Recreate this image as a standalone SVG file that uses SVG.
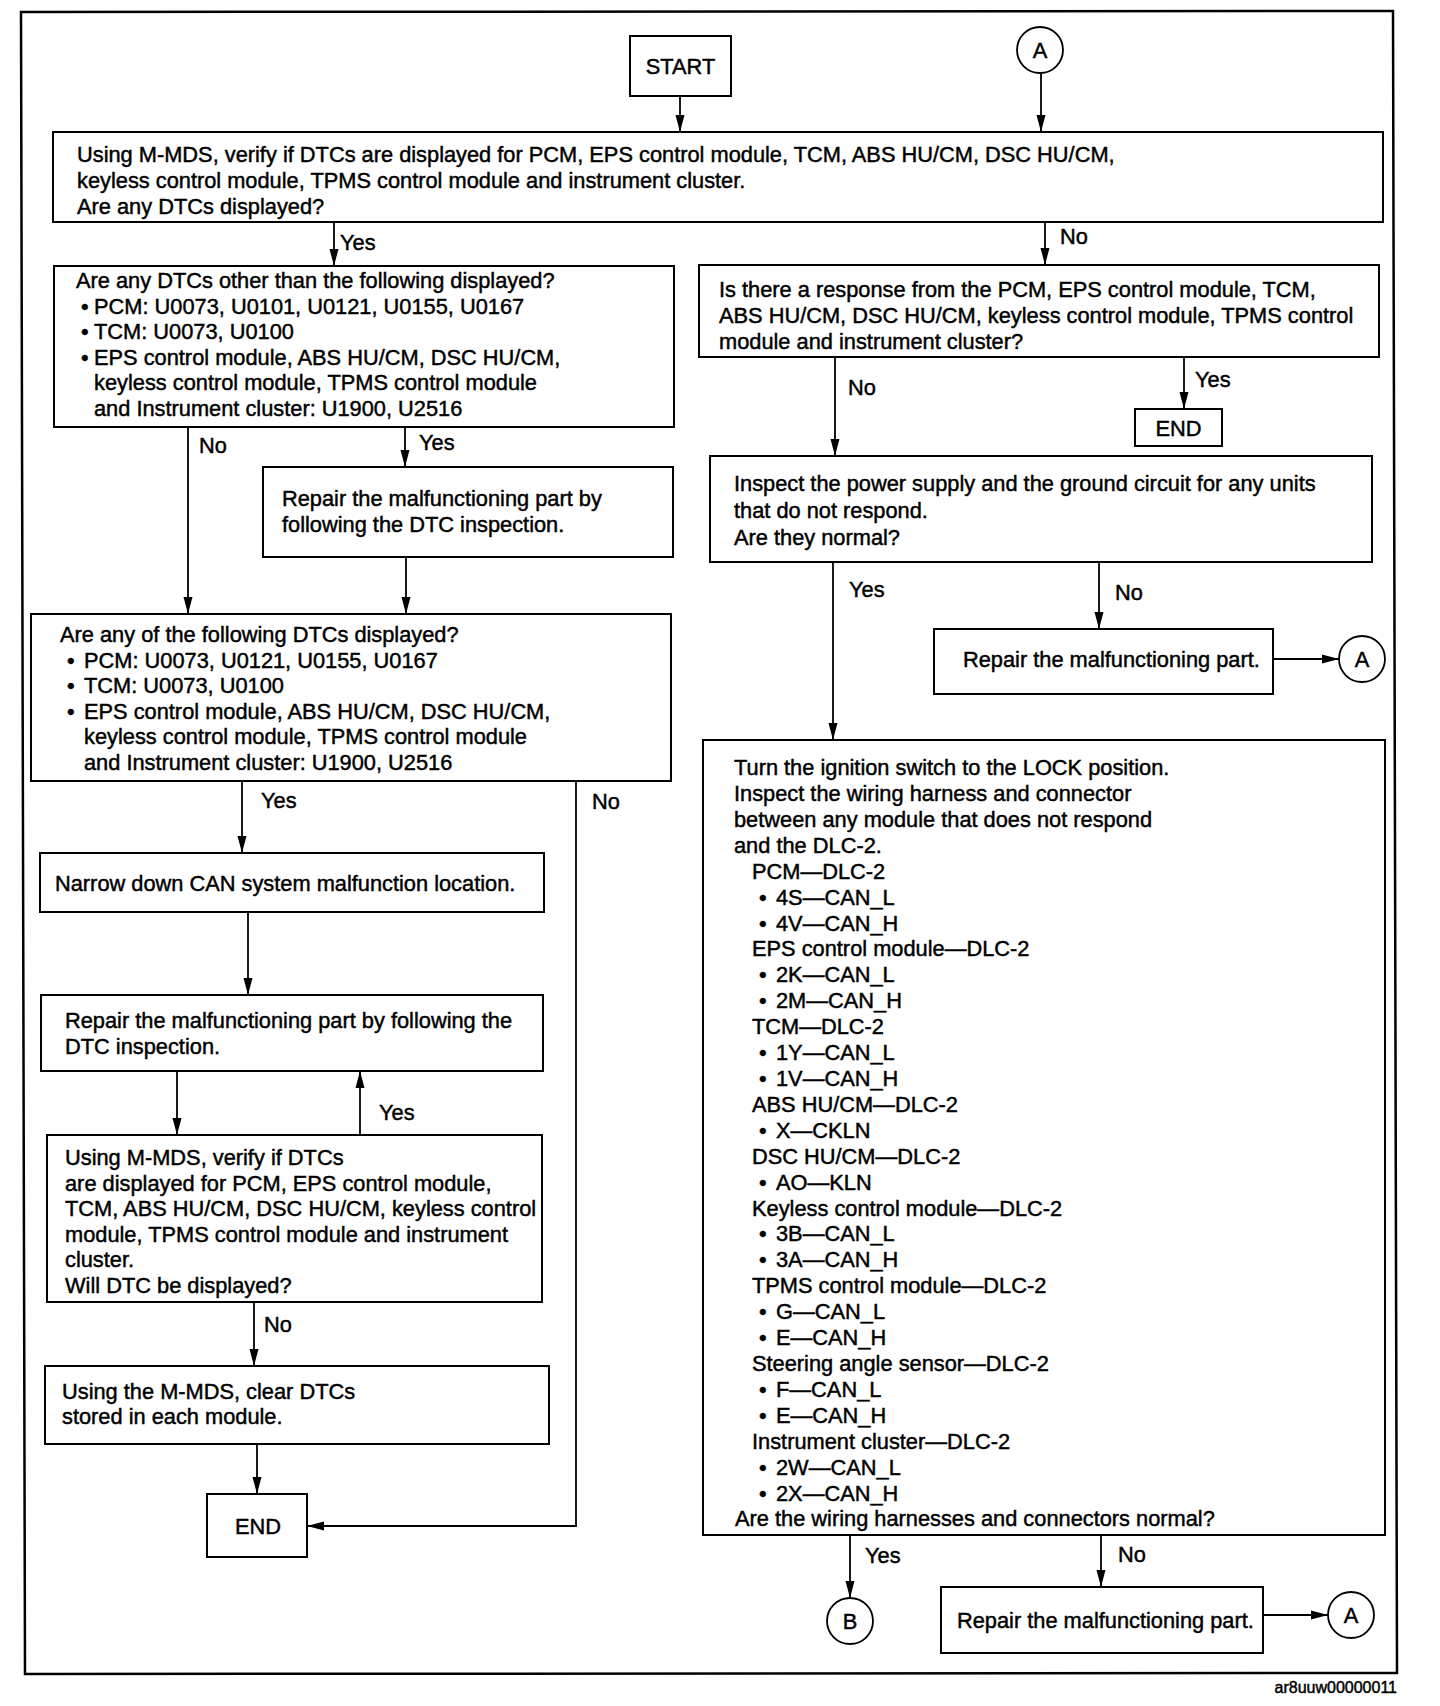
<svg xmlns="http://www.w3.org/2000/svg" width="1440" height="1706" viewBox="0 0 1440 1706">
<defs>
<marker id="ah" markerUnits="userSpaceOnUse" markerWidth="18" markerHeight="10" refX="17" refY="5" orient="auto">
<path d="M0,0.5 L17,5 L0,9.5 z" fill="#000"/>
</marker>
<style>
.bx{fill:#fff;stroke:#000;stroke-width:2}
.ci{fill:#fff;stroke:#000;stroke-width:1.8}
.t{font-family:"Liberation Sans",Arial,sans-serif;font-size:21.8px;fill:#000;stroke:#000;stroke-width:0.45}
.c{text-anchor:middle}
.ln{fill:none;stroke:#000;stroke-width:1.8}
.cap{font-family:"Liberation Sans",Arial,sans-serif;font-size:16px;fill:#000;stroke:#000;stroke-width:0.45;text-anchor:end}
</style>
</defs>
<rect width="1440" height="1706" fill="#fff"/>
<g id="frame">
<polygon points="21,12 1393,11 1397,1673 25,1674" fill="none" stroke="#000" stroke-width="2.5"/>
</g>
<g id="connectors">
<line class="ln" x1="680" y1="96" x2="680" y2="132" marker-end="url(#ah)"/>
<line class="ln" x1="1041" y1="73" x2="1041" y2="132" marker-end="url(#ah)"/>
<line class="ln" x1="334" y1="222" x2="334" y2="266" marker-end="url(#ah)"/>
<text class="t" x="340" y="250">Yes</text>
<line class="ln" x1="1045" y1="222" x2="1045" y2="265" marker-end="url(#ah)"/>
<text class="t" x="1060" y="244">No</text>
<line class="ln" x1="188" y1="427" x2="188" y2="614" marker-end="url(#ah)"/>
<text class="t" x="199" y="453">No</text>
<line class="ln" x1="405" y1="427" x2="405" y2="467" marker-end="url(#ah)"/>
<text class="t" x="419" y="450">Yes</text>
<line class="ln" x1="406" y1="557" x2="406" y2="614" marker-end="url(#ah)"/>
<line class="ln" x1="242" y1="781" x2="242" y2="853" marker-end="url(#ah)"/>
<text class="t" x="261" y="808">Yes</text>
<polyline class="ln" points="576,781 576,1526 307,1526" marker-end="url(#ah)"/>
<text class="t" x="592" y="809">No</text>
<line class="ln" x1="248" y1="912" x2="248" y2="995" marker-end="url(#ah)"/>
<line class="ln" x1="177" y1="1071" x2="177" y2="1135" marker-end="url(#ah)"/>
<line class="ln" x1="360" y1="1135" x2="360" y2="1071" marker-end="url(#ah)"/>
<text class="t" x="379" y="1120">Yes</text>
<line class="ln" x1="254" y1="1302" x2="254" y2="1366" marker-end="url(#ah)"/>
<text class="t" x="264" y="1332">No</text>
<line class="ln" x1="257" y1="1444" x2="257" y2="1494" marker-end="url(#ah)"/>
<line class="ln" x1="835" y1="357" x2="835" y2="456" marker-end="url(#ah)"/>
<text class="t" x="848" y="395">No</text>
<line class="ln" x1="1184" y1="357" x2="1184" y2="409" marker-end="url(#ah)"/>
<text class="t" x="1195" y="387">Yes</text>
<line class="ln" x1="833" y1="562" x2="833" y2="740" marker-end="url(#ah)"/>
<text class="t" x="849" y="597">Yes</text>
<line class="ln" x1="1099" y1="562" x2="1099" y2="629" marker-end="url(#ah)"/>
<text class="t" x="1115" y="600">No</text>
<line class="ln" x1="1273" y1="659" x2="1339" y2="659" marker-end="url(#ah)"/>
<line class="ln" x1="850" y1="1535" x2="850" y2="1598" marker-end="url(#ah)"/>
<text class="t" x="865" y="1563">Yes</text>
<line class="ln" x1="1101" y1="1535" x2="1101" y2="1587" marker-end="url(#ah)"/>
<text class="t" x="1118" y="1562">No</text>
<line class="ln" x1="1263" y1="1615" x2="1328" y2="1615" marker-end="url(#ah)"/>
</g>
<g id="start">
<rect class="bx" x="630" y="36" width="101" height="60"/>
<text class="t c" x="680.5" y="74">START</text>
</g>
<g id="a_top">
<circle class="ci" cx="1040" cy="50" r="23"/>
<text class="t c" x="1040" y="57.5">A</text>
</g>
<g id="q_dtc">
<rect class="bx" x="53" y="132" width="1330" height="90"/>
<text class="t"><tspan x="77" y="162">Using M-MDS, verify if DTCs are displayed for PCM, EPS control module, TCM, ABS HU/CM, DSC HU/CM,</tspan><tspan x="77" y="188">keyless control module, TPMS control module and instrument cluster.</tspan><tspan x="77" y="214">Are any DTCs displayed?</tspan></text>
</g>
<g id="q_other">
<rect class="bx" x="54" y="266" width="620" height="161"/>
<text class="t"><tspan x="76" y="288">Are any DTCs other than the following displayed?</tspan><tspan x="81" y="313.5">•</tspan><tspan x="94" y="313.5">PCM: U0073, U0101, U0121, U0155, U0167</tspan><tspan x="81" y="339">•</tspan><tspan x="94" y="339">TCM: U0073, U0100</tspan><tspan x="81" y="364.5">•</tspan><tspan x="94" y="364.5">EPS control module, ABS HU/CM, DSC HU/CM,</tspan><tspan x="94" y="390">keyless control module, TPMS control module</tspan><tspan x="94" y="415.5">and Instrument cluster: U1900, U2516</tspan></text>
</g>
<g id="repair_dtc1">
<rect class="bx" x="263" y="467" width="410" height="90"/>
<text class="t"><tspan x="282" y="506">Repair the malfunctioning part by</tspan><tspan x="282" y="532">following the DTC inspection.</tspan></text>
</g>
<g id="q_following">
<rect class="bx" x="31" y="614" width="640" height="167"/>
<text class="t"><tspan x="60" y="642">Are any of the following DTCs displayed?</tspan><tspan x="67" y="667.5">•</tspan><tspan x="84" y="667.5">PCM: U0073, U0121, U0155, U0167</tspan><tspan x="67" y="693">•</tspan><tspan x="84" y="693">TCM: U0073, U0100</tspan><tspan x="67" y="718.5">•</tspan><tspan x="84" y="718.5">EPS control module, ABS HU/CM, DSC HU/CM,</tspan><tspan x="84" y="744">keyless control module, TPMS control module</tspan><tspan x="84" y="769.5">and Instrument cluster: U1900, U2516</tspan></text>
</g>
<g id="narrow">
<rect class="bx" x="40" y="853" width="504" height="59"/>
<text class="t" x="55" y="891">Narrow down CAN system malfunction location.</text>
</g>
<g id="repair_dtc2">
<rect class="bx" x="41" y="995" width="502" height="76"/>
<text class="t"><tspan x="65" y="1028">Repair the malfunctioning part by following the</tspan><tspan x="65" y="1054">DTC inspection.</tspan></text>
</g>
<g id="q_verify">
<rect class="bx" x="47" y="1135" width="495" height="167"/>
<text class="t"><tspan x="65" y="1165">Using M-MDS, verify if DTCs</tspan><tspan x="65" y="1190.5">are displayed for PCM, EPS control module,</tspan><tspan x="65" y="1216">TCM, ABS HU/CM, DSC HU/CM, keyless control</tspan><tspan x="65" y="1241.5">module, TPMS control module and instrument</tspan><tspan x="65" y="1267">cluster.</tspan><tspan x="65" y="1292.5">Will DTC be displayed?</tspan></text>
</g>
<g id="clear">
<rect class="bx" x="45" y="1366" width="504" height="78"/>
<text class="t"><tspan x="62" y="1399">Using the M-MDS, clear DTCs</tspan><tspan x="62" y="1424">stored in each module.</tspan></text>
</g>
<g id="end_left">
<rect class="bx" x="207" y="1494" width="100" height="63"/>
<text class="t c" x="258" y="1534">END</text>
</g>
<g id="q_response">
<rect class="bx" x="699" y="265" width="680" height="92"/>
<text class="t"><tspan x="719" y="297">Is there a response from the PCM, EPS control module, TCM,</tspan><tspan x="719" y="323">ABS HU/CM, DSC HU/CM, keyless control module, TPMS control</tspan><tspan x="719" y="349">module and instrument cluster?</tspan></text>
</g>
<g id="end_right">
<rect class="bx" x="1135" y="409" width="87" height="37"/>
<text class="t c" x="1178.5" y="436">END</text>
</g>
<g id="q_power">
<rect class="bx" x="710" y="456" width="662" height="106"/>
<text class="t"><tspan x="734" y="491">Inspect the power supply and the ground circuit for any units</tspan><tspan x="734" y="518">that do not respond.</tspan><tspan x="734" y="545">Are they normal?</tspan></text>
</g>
<g id="repair1">
<rect class="bx" x="934" y="629" width="339" height="65"/>
<text class="t" x="963" y="667">Repair the malfunctioning part.</text>
</g>
<g id="a_mid">
<circle class="ci" cx="1362" cy="659" r="23"/>
<text class="t c" x="1362" y="666.5">A</text>
</g>
<g id="q_wiring">
<rect class="bx" x="703" y="740" width="682" height="795"/>
<text class="t"><tspan x="734" y="775">Turn the ignition switch to the LOCK position.</tspan><tspan x="734" y="800.9">Inspect the wiring harness and connector</tspan><tspan x="734" y="826.8">between any module that does not respond</tspan><tspan x="734" y="852.7">and the DLC-2.</tspan><tspan x="752" y="878.6">PCM—DLC-2</tspan><tspan x="759" y="904.6">•</tspan><tspan x="776" y="904.6">4S—CAN_L</tspan><tspan x="759" y="930.5">•</tspan><tspan x="776" y="930.5">4V—CAN_H</tspan><tspan x="752" y="956.4">EPS control module—DLC-2</tspan><tspan x="759" y="982.3">•</tspan><tspan x="776" y="982.3">2K—CAN_L</tspan><tspan x="759" y="1008.2">•</tspan><tspan x="776" y="1008.2">2M—CAN_H</tspan><tspan x="752" y="1034.1">TCM—DLC-2</tspan><tspan x="759" y="1060">•</tspan><tspan x="776" y="1060">1Y—CAN_L</tspan><tspan x="759" y="1085.9">•</tspan><tspan x="776" y="1085.9">1V—CAN_H</tspan><tspan x="752" y="1111.8">ABS HU/CM—DLC-2</tspan><tspan x="759" y="1137.7">•</tspan><tspan x="776" y="1137.7">X—CKLN</tspan><tspan x="752" y="1163.7">DSC HU/CM—DLC-2</tspan><tspan x="759" y="1189.6">•</tspan><tspan x="776" y="1189.6">AO—KLN</tspan><tspan x="752" y="1215.5">Keyless control module—DLC-2</tspan><tspan x="759" y="1241.4">•</tspan><tspan x="776" y="1241.4">3B—CAN_L</tspan><tspan x="759" y="1267.3">•</tspan><tspan x="776" y="1267.3">3A—CAN_H</tspan><tspan x="752" y="1293.2">TPMS control module—DLC-2</tspan><tspan x="759" y="1319.1">•</tspan><tspan x="776" y="1319.1">G—CAN_L</tspan><tspan x="759" y="1345">•</tspan><tspan x="776" y="1345">E—CAN_H</tspan><tspan x="752" y="1370.9">Steering angle sensor—DLC-2</tspan><tspan x="759" y="1396.8">•</tspan><tspan x="776" y="1396.8">F—CAN_L</tspan><tspan x="759" y="1422.8">•</tspan><tspan x="776" y="1422.8">E—CAN_H</tspan><tspan x="752" y="1448.7">Instrument cluster—DLC-2</tspan><tspan x="759" y="1474.6">•</tspan><tspan x="776" y="1474.6">2W—CAN_L</tspan><tspan x="759" y="1500.5">•</tspan><tspan x="776" y="1500.5">2X—CAN_H</tspan><tspan x="735" y="1526.4">Are the wiring harnesses and connectors normal?</tspan></text>
</g>
<g id="b_conn">
<circle class="ci" cx="850" cy="1621" r="23"/>
<text class="t c" x="850" y="1628.5">B</text>
</g>
<g id="repair2">
<rect class="bx" x="941" y="1587" width="322" height="66"/>
<text class="t" x="957" y="1628">Repair the malfunctioning part.</text>
</g>
<g id="a_bottom">
<circle class="ci" cx="1351" cy="1615" r="23"/>
<text class="t c" x="1351" y="1622.5">A</text>
</g>
<g id="caption">
<text class="cap" x="1397" y="1693">ar8uuw00000011</text>
</g>
</svg>
